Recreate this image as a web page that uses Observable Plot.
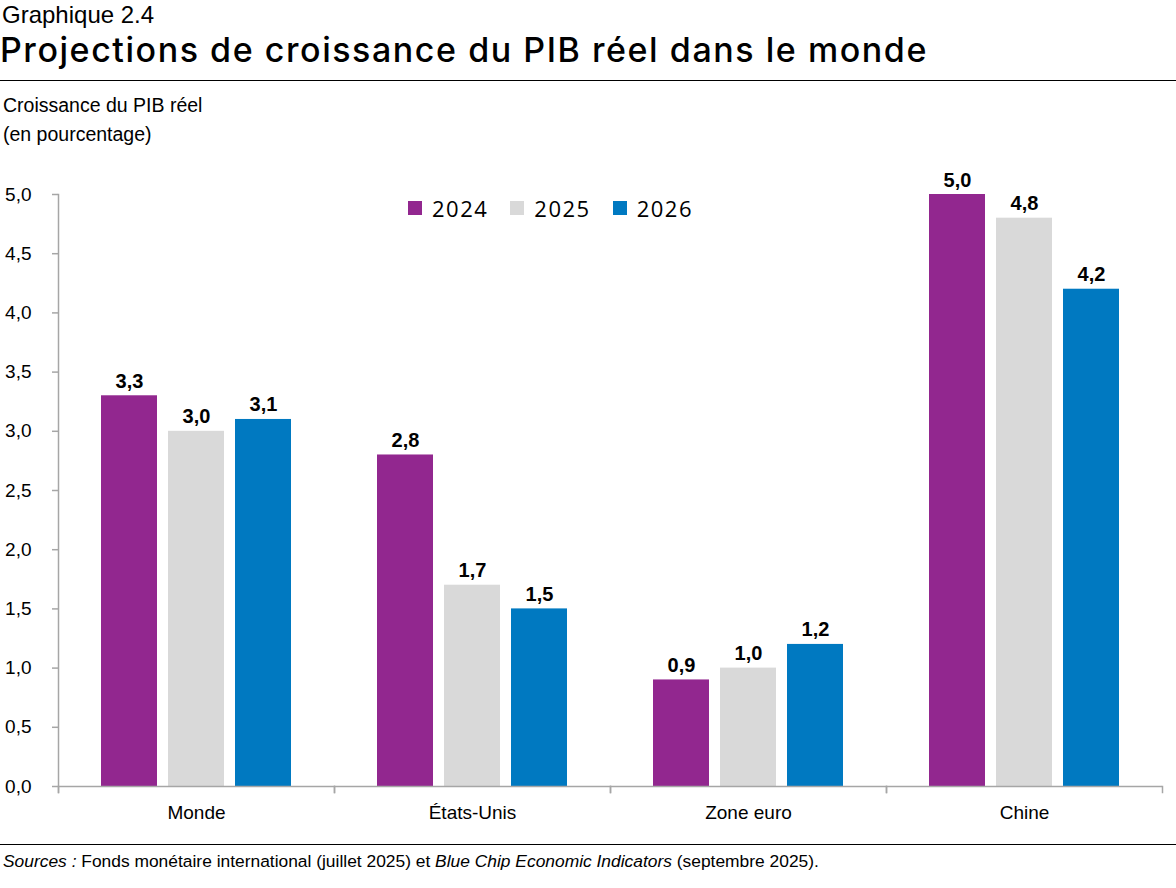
<!DOCTYPE html>
<html>
<head>
<meta charset="utf-8">
<script src="https://cdn.jsdelivr.net/npm/d3@7"></script>
<script src="https://cdn.jsdelivr.net/npm/@observablehq/plot@0.6"></script>
<style>
  html, body { margin: 0; padding: 0; background: #fff; }
  body { width: 1176px; height: 888px; position: relative; overflow: hidden; font-family: "Liberation Sans", Arial, sans-serif; color: #000; }
  .abs { position: absolute; white-space: nowrap; }
  #t1 { left: 2px; top: 1px; font-size: 24px; }
  #t2 { left: 0px; top: 29px; font-size: 34px; font-family: "Inter", "Open Sans", sans-serif; font-weight: 500; letter-spacing: 1.55px; }
  #rule1 { left: 0; top: 80px; width: 1176px; height: 1px; background: #000; }
  #sub { left: 3px; top: 91px; font-size: 19.5px; line-height: 29px; }
  #chart { left: 0; top: 150px; }
  #legend { left: 408px; top: 193px; display: flex; align-items: center; font-family: "Open Sans", "Lato", sans-serif; font-size: 22px; letter-spacing: 1.5px; }
  #legend .item { display: flex; align-items: center; margin-right: 22px; }
  #legend .sw { width: 14px; height: 14px; margin-right: 10px; }
  #rule2 { left: 0; top: 844px; width: 1176px; height: 1px; background: #000; }
  #cap { left: 3px; top: 851px; font-size: 17.4px; }
</style>
</head>
<body>
<div class="abs" id="t1">Graphique 2.4</div>
<div class="abs" id="t2">Projections de croissance du PIB réel dans le monde</div>
<div class="abs" id="rule1"></div>
<div class="abs" id="sub">Croissance du PIB réel<br>(en pourcentage)</div>
<div class="abs" id="chart"></div>
<div class="abs" id="legend"></div>
<div class="abs" id="rule2"></div>
<div class="abs" id="cap"><i>Sources :</i> Fonds monétaire international (juillet 2025) et <i>Blue Chip Economic Indicators</i> (septembre 2025).</div>
<script>
const countries = ["Monde", "États-Unis", "Zone euro", "Chine"];
const years = ["2024", "2025", "2026"];
const v2024 = [3.3, 2.8, 0.9, 5.0];
const v2025 = [3.0, 1.7, 1.0, 4.8];
const v2026 = [3.1, 1.5, 1.2, 4.2];
const yTicks = [0, 0.5, 1, 1.5, 2, 2.5, 3, 3.5, 4, 4.5, 5];
const colors = ["#92278f", "#d9d9d9", "#0079c1"];

const series = [v2024, v2025, v2026];
const data = [];
countries.forEach((c, i) => years.forEach((y, j) => data.push({country: c, year: y, value: series[j][i]})));

const fmt = d => d.toFixed(1).replace(".", ",");
const gray = "#a6a6a6";
const plotH = 690, mT = 44, mB = 54;
const innerH = plotH - mT - mB;

const chart = Plot.plot({
  width: 1176,
  height: plotH,
  marginTop: mT,
  marginBottom: mB,
  marginLeft: 57,
  marginRight: 13,
  style: {fontFamily: "'Liberation Sans', Arial, sans-serif", color: "#000", background: "transparent"},
  fx: {domain: countries, padding: 0, label: null, axis: null},
  x: {domain: years, paddingInner: 0.17, paddingOuter: 0.633, axis: null},
  y: {domain: [0, 5], axis: null},
  color: {domain: years, range: colors},
  marks: [
    Plot.barY(data, {fx: "country", x: "year", y: "value", fill: "year"}),
    Plot.ruleY([0], {stroke: gray, strokeWidth: 1.5}),
    Plot.frame({anchor: "left", facetAnchor: "left", stroke: gray, strokeWidth: 1.5, insetBottom: -6}),
    Plot.frame({anchor: "left", stroke: gray, strokeWidth: 1.5, insetTop: innerH, insetBottom: -6}),
    Plot.frame({anchor: "right", stroke: gray, strokeWidth: 1.5, insetTop: innerH, insetBottom: -6}),
    Plot.axisY({ticks: yTicks, tickFormat: fmt, tickSize: 6, tickPadding: 21, stroke: gray, strokeWidth: 1.5, fill: "#000", fontSize: 19, label: null}),
    Plot.axisFx({anchor: "bottom", tickSize: 0, tickPadding: 19, fontSize: 19, label: null}),
    Plot.text(data, {fx: "country", x: "year", y: "value", text: d => fmt(d.value), dy: -8, lineAnchor: "bottom", fontWeight: "bold", fontSize: 20})
  ]
});
document.getElementById("chart").appendChild(chart);

const legend = document.getElementById("legend");
years.forEach((y, i) => {
  const item = document.createElement("div");
  item.className = "item";
  const sw = document.createElement("div");
  sw.className = "sw";
  sw.style.background = colors[i];
  const lab = document.createElement("span");
  lab.textContent = y;
  item.appendChild(sw);
  item.appendChild(lab);
  legend.appendChild(item);
});
</script>
</body>
</html>
